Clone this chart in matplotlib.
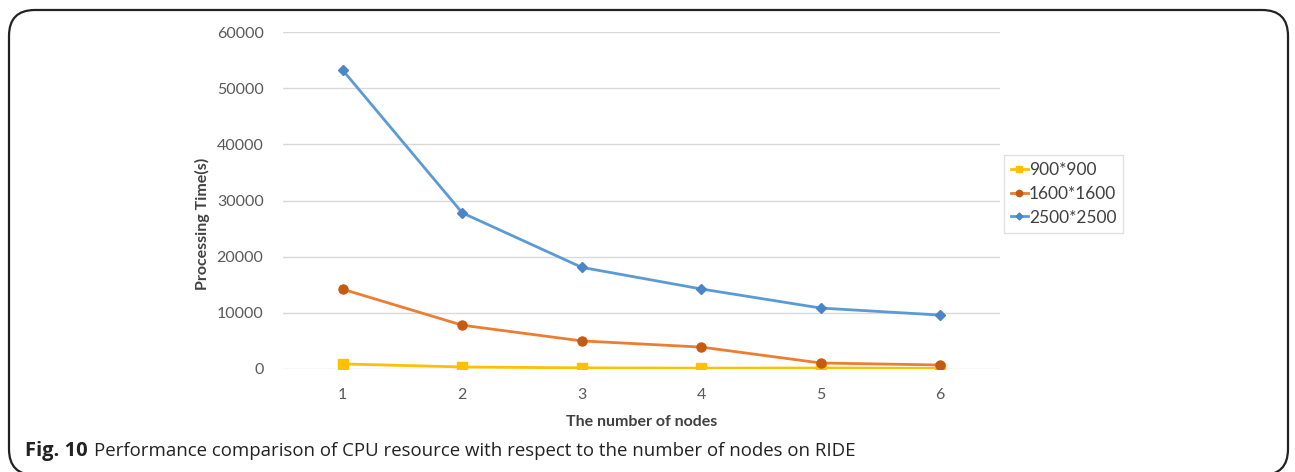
import matplotlib
matplotlib.use("Agg")
import matplotlib.pyplot as plt
from matplotlib.patches import FancyBboxPatch

nodes = [1, 2, 3, 4, 5, 6]
time_900 = [900, 360, 200, 150, 180, 100]
time_1600 = [14200, 7800, 5000, 3900, 1070, 710]
time_2500 = [53200, 27800, 18100, 14250, 10850, 9600]
series_labels = ["900*900", "1600*1600", "2500*2500"]
y_ticks = [0, 10000, 20000, 30000, 40000, 50000, 60000]

W, H = 1295, 472
plt.rcParams["font.family"] = ["Lato", "DejaVu Sans"]

fig = plt.figure(figsize=(W / 100, H / 100), dpi=100)

# rounded frame around the figure panel
frame = FancyBboxPatch(
    (9 / W, 1 - 475 / H), (1288 - 9) / W, (475 - 10) / H,
    boxstyle="round,pad=0,rounding_size=0.02",
    transform=fig.transFigure, fill=False, edgecolor="#222222",
    linewidth=1.6, clip_on=False, mutation_aspect=W / H,
)
fig.patches.append(frame)

ax = fig.add_axes([283 / W, 1 - 369 / H, 717 / W, (369 - 32) / H])

ax.plot(nodes, time_900, color="#FFC000", marker="s", markersize=6.5,
        linewidth=2, label=series_labels[0], zorder=3)
ax.plot(nodes, time_1600, color="#ED7D31", marker="o", markersize=6.5,
        markerfacecolor="#C55A11", markeredgecolor="#C55A11",
        linewidth=2, label=series_labels[1], zorder=4)
ax.plot(nodes, time_2500, color="#5B9BD5", marker="D", markersize=5,
        markerfacecolor="#4A86C5", markeredgecolor="#4A86C5",
        linewidth=2, label=series_labels[2], zorder=5)

ax.set_xlim(0.5, 6.5)
ax.set_ylim(0, 60000)
ax.set_xticks(nodes)
ax.set_yticks(y_ticks)
ax.tick_params(length=0, labelsize=11.5, labelcolor="#595959")
ax.tick_params(axis="x", pad=14)
ax.tick_params(axis="y", pad=14)
ax.yaxis.grid(True, color="#D9D9D9", linewidth=1)
ax.set_axisbelow(True)
for side in ["top", "right", "left", "bottom"]:
    ax.spines[side].set_visible(False)

ax.set_xlabel("The number of nodes", fontsize=11.5, fontweight="bold",
              color="#404040", labelpad=9)
ax.set_ylabel("Processing Time(s)", fontsize=11.5, fontweight="bold",
              color="#404040", labelpad=5)
ax.yaxis.label.set_y(0.43)

leg = ax.legend(loc="center left", bbox_to_anchor=(1.005, 0.52), fontsize=12.5,
                frameon=True, fancybox=False, edgecolor="#D9D9D9",
                handlelength=1.0, handletextpad=0.05, borderpad=0.4,
                borderaxespad=0, labelspacing=0.45, markerscale=0.7)
leg.get_frame().set_linewidth(1)
for text in leg.get_texts():
    text.set_color("#404040")

# caption: bold label, then the description right after it
cap_y = 1 - 451 / H
fig_label = fig.text(25 / W, cap_y, "Fig. 10", fontsize=14.5, fontweight="bold",
                     va="center", ha="left", color="#222222",
                     family=["Open Sans", "DejaVu Sans"])
renderer = fig.canvas.get_renderer()
label_end = fig_label.get_window_extent(renderer).x1
fig.text((label_end + 6) / W, cap_y,
         "Performance comparison of CPU resource with respect to the number of nodes on RIDE",
         fontsize=13.4, va="center", ha="left", color="#222222",
         family=["Open Sans", "DejaVu Sans"])

fig.savefig("out.png", dpi=100)
